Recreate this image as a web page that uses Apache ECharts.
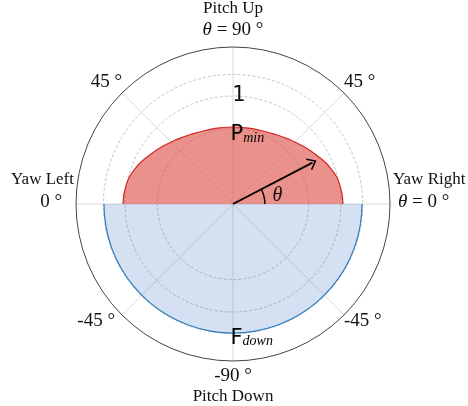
<!DOCTYPE html>
<html>
<head>
<meta charset="utf-8">
<script src="https://cdn.jsdelivr.net/npm/echarts@6/dist/echarts.min.js"></script>
<style>
  html, body { margin: 0; padding: 0; background: #fff; }
  #chart { width: 468px; height: 406px; }
</style>
</head>
<body>
<div id="chart"></div>
<script>
// angles in degrees (0 = right, counter-clockwise), radius in units of the "1" ring
const redAngles = [0, 10, 20, 30, 40, 50, 60, 70, 80, 90, 100, 110, 120, 130, 140, 150, 160, 170, 180]
const redRadius = [1.019, 1.005, 0.963, 0.898, 0.838, 0.787, 0.750, 0.727, 0.716, 0.713,
  0.716, 0.727, 0.750, 0.787, 0.838, 0.898, 0.963, 1.005, 1.019]
const blueAngles = [180, 190, 200, 210, 220, 230, 240, 250, 260, 270, 280, 290, 300, 310, 320, 330, 340, 350, 360]
const blueRadius = [1.195, 1.195, 1.195, 1.195, 1.195, 1.195, 1.195, 1.195, 1.195, 1.195,
  1.195, 1.195, 1.195, 1.195, 1.195, 1.195, 1.195, 1.195, 1.195]

const gridRadii = [0.7, 1.0, 1.2]
const radiusTicks = [1]
const radiusLabels = ['1']

const angleTicks = [0, 45, 90, 135, 180, 225, 270, 315]
const angleNames = ['Yaw Right', '', 'Pitch Up', '', 'Yaw Left', '', 'Pitch Down', '']
const angleValues = ['θ = 0 °', '45 °', 'θ = 90 °', '45 °', '0 °', '-45 °', '-90 °', '-45 °']

const arrowAngle = 27.5
const arrowLength = 0.83

const markerNames = ['P', 'F']
const markerSubs = ['min', 'down']
const markerAngles = [90, 270]

const SERIF = '"Liberation Serif", "DejaVu Serif", serif'
const SANS = '"DejaVu Sans", sans-serif'
const RMAX = 1.4537

function valueLine(i, style) {
  const s = angleValues[i]
  if (s.startsWith('θ')) return `{th${style}|θ}{${style}|${s.slice(1)}}`
  return `{${style}|${s}}`
}

function angleLabel(v) {
  const i = angleTicks.indexOf(v)
  if (i < 0) return ''
  switch (v) {
    case 0: return `{nr|${angleNames[i]}}\n${valueLine(i, 'vr')}\n{gap|}`
    case 180: return `{nl|${angleNames[i]}}\n{vl|${angleValues[i]}}\n{gap|}`
    case 90: return `{n|${angleNames[i]}}\n${valueLine(i, 'v')}\n{g6|}`
    case 270: return `{g4|}\n{v|${angleValues[i]}}\n{n|${angleNames[i]}}`
    case 225: return `{vd|${angleValues[i]}}`
    case 315: return `{vd2|${angleValues[i]}}`
    default: return `{v|${angleValues[i]}}`
  }
}

function markerLabel(p) {
  const i = p.dataIndex
  return `{big|${markerNames[i]}}{sub|${markerSubs[i]}}`
}

const chart = echarts.init(document.getElementById('chart'), null, { renderer: 'canvas' })

const nameStyle = { fontFamily: SERIF, fontSize: 17, color: '#111', lineHeight: 20 }
const valStyle = { fontFamily: SERIF, fontSize: 19, color: '#111', lineHeight: 22 }
const thetaStyle = { ...valStyle, fontStyle: 'italic' }

chart.setOption({
  animation: false,
  backgroundColor: '#fff',
  polar: [
    { center: [233, 204], radius: 157 },
    { center: [233, 204], radius: 157 },
  ],
  angleAxis: [
    {
      polarIndex: 0,
      type: 'value',
      min: 0,
      max: 360,
      interval: 45,
      startAngle: 0,
      clockwise: false,
      axisLine: { lineStyle: { color: '#444', width: 1 } },
      axisTick: { show: false },
      splitLine: { lineStyle: { color: '#dadada', width: 1 } },
      axisLabel: {
        margin: 0,
        formatter: angleLabel,
        rich: {
          nr: { ...nameStyle, lineHeight: 22, padding: [0, 0, 0, 3] },
          thvr: { ...thetaStyle, padding: [0, 0, 0, 8] },
          vr: { ...valStyle },
          nl: { ...nameStyle, lineHeight: 22, padding: [0, 2, 0, 0] },
          vl: { ...valStyle, padding: [0, 14, 0, 0] },
          n: { ...nameStyle },
          thv: { ...thetaStyle },
          v: { ...valStyle },
          vd: { ...valStyle, lineHeight: 12, padding: [0, 7, 0, 0] },
          vd2: { ...valStyle, lineHeight: 12 },
          gap: { fontSize: 1, lineHeight: 26 },
          g6: { fontSize: 1, lineHeight: 6 },
          g4: { fontSize: 1, lineHeight: 4 },
        },
      },
    },
    {
      polarIndex: 1,
      type: 'value',
      min: 0,
      max: 360,
      startAngle: 90,
      clockwise: false,
      show: false,
    },
  ],
  radiusAxis: [
    {
      polarIndex: 0,
      type: 'value',
      min: 0,
      max: RMAX,
      axisLine: { show: false },
      axisTick: { show: false, customValues: gridRadii },
      axisLabel: { show: false },
      splitLine: { lineStyle: { color: '#c4c4c4', width: 1, type: [3, 2] } },
    },
    {
      polarIndex: 1,
      type: 'value',
      min: 0,
      max: RMAX,
      axisLine: { show: false },
      axisTick: { show: false, customValues: radiusTicks },
      splitLine: { show: false },
      axisLabel: {
        customValues: radiusTicks,
        formatter: v => radiusLabels[radiusTicks.indexOf(v)] ?? '',
        margin: -6,
        align: 'center',
        fontFamily: SANS,
        fontSize: 21,
        color: '#111',
      },
    },
  ],
  series: [
    {
      name: 'P',
      type: 'line',
      coordinateSystem: 'polar',
      polarIndex: 0,
      smooth: true,
      symbol: 'none',
      data: redAngles.map((a, i) => [redRadius[i], a]),
      lineStyle: { color: '#d62728', width: 1.2 },
      areaStyle: { color: 'rgba(218, 72, 60, 0.6)', opacity: 1 },
      z: 2,
    },
    {
      name: 'F',
      type: 'line',
      coordinateSystem: 'polar',
      polarIndex: 0,
      smooth: true,
      symbol: 'none',
      data: blueAngles.map((a, i) => [blueRadius[i], a]),
      lineStyle: { color: '#2a7bbf', width: 1.2 },
      areaStyle: { color: 'rgba(66, 117, 196, 0.22)', opacity: 1 },
      z: 2,
    },
    {
      name: 'arrow',
      type: 'line',
      coordinateSystem: 'polar',
      polarIndex: 0,
      showSymbol: true,
      symbol: 'path://M0,10 L6.5,0 L13,10 L11.7,10.8 L6.5,2.8 L1.3,10.8 Z',
      symbolSize: [13, 10.8],
      symbolKeepAspect: true,
      symbolRotate: arrowAngle - 90,
      itemStyle: { color: '#000' },
      lineStyle: { color: '#000', width: 1.8 },
      data: [
        { value: [0, arrowAngle], symbol: 'none' },
        { value: [arrowLength, arrowAngle] },
      ],
      z: 4,
    },
    {
      name: 'theta',
      type: 'pie',
      center: [233, 204],
      radius: [31.2, 32.6],
      startAngle: arrowAngle,
      clockwise: true,
      silent: true,
      avoidLabelOverlap: false,
      label: { show: false },
      labelLine: { show: false, length: 3, length2: 0 },
      data: [
        {
          value: arrowAngle,
          itemStyle: { color: '#000' },
          label: {
            show: true,
            position: 'outside',
            formatter: 'θ',
            fontFamily: SERIF,
            fontStyle: 'italic',
            fontSize: 20,
            color: '#111',
          },
        },
        { value: 360 - arrowAngle, itemStyle: { color: 'rgba(0,0,0,0)' } },
      ],
      z: 4,
    },
    {
      name: 'markers',
      type: 'scatter',
      coordinateSystem: 'polar',
      polarIndex: 0,
      symbolSize: 1,
      itemStyle: { color: 'rgba(0,0,0,0)', opacity: 1 },
      data: [
        { value: [redRadius[redAngles.indexOf(markerAngles[0])], markerAngles[0]], label: { position: [-2, -3] } },
        { value: [blueRadius[blueAngles.indexOf(markerAngles[1])], markerAngles[1]], label: { position: [-2, -6] } },
      ],
      label: {
        show: true,
        formatter: markerLabel,
        rich: {
          big: { fontFamily: SANS, fontSize: 21, color: '#000', lineHeight: 22, verticalAlign: 'bottom' },
          sub: { fontFamily: SERIF, fontStyle: 'italic', fontSize: 14, color: '#000', lineHeight: 16, verticalAlign: 'bottom' },
        },
      },
      z: 5,
    },
  ],
})
</script>
</body>
</html>
